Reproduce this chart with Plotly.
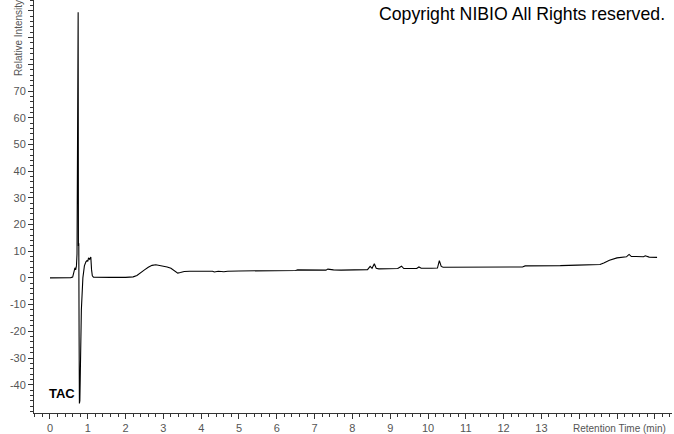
import plotly.graph_objects as go

# Retention time (min) and relative intensity
time_min = [
    0.00, 0.30, 0.55, 0.60, 0.63, 0.66, 0.68, 0.70, 0.715, 0.725, 0.745, 0.752, 0.762,
    0.770, 0.778, 0.790, 0.800, 0.810, 0.83, 0.87, 0.91, 0.95, 0.98, 1.00, 1.02,
    1.05, 1.08, 1.10, 1.12, 1.15, 1.30, 1.60, 2.00, 2.20, 2.30, 2.40, 2.50, 2.60,
    2.70, 2.80, 2.90, 3.00, 3.10, 3.20, 3.30, 3.38, 3.45, 3.55, 3.70, 4.00, 4.30,
    4.35, 4.45, 4.60, 4.70, 5.00, 5.50, 6.00, 6.10, 6.15, 6.50, 6.55, 7.00, 7.30,
    7.35, 7.50, 7.70, 8.00, 8.20, 8.40, 8.47, 8.52, 8.58, 8.63, 8.70, 8.90, 9.20,
    9.30, 9.36, 9.50, 9.70, 9.76, 9.82, 10.10, 10.25, 10.30, 10.35, 10.40, 10.60,
    11.00, 11.50, 12.00, 12.50, 12.57, 13.00, 13.50, 13.95, 14.30, 14.55, 14.65,
    14.80, 15.00, 15.10, 15.25, 15.32, 15.38, 15.50, 15.70, 15.75, 15.85, 16.06,
]
intensity = [
    0.0, 0.0, 0.1, 0.3, 1.8, 3.8, 3.0, 4.5, 9.0, 99.5, 99.5, 12.0, 13.0,
    -22.0, -47.0, -46.0, -38.0, -28.0, -12.0, 0.0, 4.5, 6.0, 6.5, 6.2, 7.5,
    7.0, 7.8, 3.0, 0.8, 0.3, 0.2, 0.2, 0.2, 0.4, 0.9, 1.8, 3.0, 4.0,
    4.7, 4.9, 4.7, 4.4, 4.1, 3.6, 2.6, 1.8, 2.0, 2.4, 2.5, 2.5, 2.5,
    2.2, 2.5, 2.3, 2.5, 2.6, 2.6, 2.6, 2.8, 2.8, 2.8, 3.0, 2.9, 2.9,
    3.3, 3.0, 2.9, 3.1, 3.0, 3.1, 4.3, 3.6, 5.3, 3.6, 3.4, 3.4, 3.5,
    4.4, 3.5, 3.5, 3.5, 4.1, 3.6, 3.6, 3.7, 6.5, 4.3, 4.0, 4.0,
    4.0, 4.0, 4.1, 4.1, 4.5, 4.5, 4.6, 4.8, 4.9, 5.0, 5.6,
    6.6, 7.5, 7.7, 7.9, 8.8, 8.0, 8.0, 7.9, 8.3, 7.8, 7.7,
]

x_tick_vals = list(range(0, 17))
x_tick_text = [str(v) if v <= 13 else "" for v in x_tick_vals]
y_tick_vals = list(range(-40, 101, 10))
y_tick_text = [str(v) if v <= 70 else "" for v in y_tick_vals]

font_family = "Liberation Sans, Arial, sans-serif"
gray = "#555555"

fig = go.Figure()
fig.add_trace(go.Scatter(
    x=time_min, y=intensity, mode="lines",
    line=dict(color="black", width=1.1), showlegend=False, hoverinfo="skip",
))

fig.update_layout(
    width=674, height=434,
    margin=dict(l=34, r=2, t=0, b=21),
    paper_bgcolor="white", plot_bgcolor="white",
    font=dict(family=font_family, size=11, color=gray),
    xaxis=dict(
        range=[-0.423, 16.455], showgrid=False, zeroline=False,
        showline=True, linecolor="#333333", linewidth=1,
        tickmode="array", tickvals=x_tick_vals, ticktext=x_tick_text,
        ticks="outside", ticklen=5, tickcolor="#333333", tickwidth=1,
        minor=dict(dtick=0.2, tick0=0, ticks="outside", ticklen=3, tickcolor="#333333", tickwidth=1),
        tickfont=dict(size=11, color=gray, family=font_family),
    ),
    yaxis=dict(
        range=[-50.6, 104.1], showgrid=False, zeroline=False,
        showline=True, linecolor="#333333", linewidth=1,
        tickmode="array", tickvals=y_tick_vals, ticktext=y_tick_text,
        ticks="outside", ticklen=5, tickcolor="#333333", tickwidth=1,
        minor=dict(dtick=2, tick0=0, ticks="outside", ticklen=3, tickcolor="#333333", tickwidth=1),
        tickfont=dict(size=11, color=gray, family=font_family),
    ),
    annotations=[
        dict(text="Relative Intensity", textangle=-90, xref="paper", yref="paper",
             x=-0.025, y=0.811, xanchor="center", yanchor="bottom", showarrow=False,
             font=dict(size=10, color=gray, family=font_family)),
        dict(text="Retention Time (min)", xref="paper", yref="paper",
             x=0.9937, y=-0.0387, xanchor="right", yanchor="middle", showarrow=False,
             font=dict(size=10, color=gray, family=font_family)),
        dict(text="Copyright NIBIO All Rights reserved.", xref="paper", yref="paper",
             x=0.992, y=0.995, xanchor="right", yanchor="top", showarrow=False,
             font=dict(size=17.7, color="black", family=font_family)),
        dict(text="<b>TAC</b>", xref="paper", yref="paper",
             x=0.0204, y=0.0484, xanchor="left", yanchor="middle", showarrow=False,
             font=dict(size=13, color="black", family=font_family)),
    ],
)

fig.write_html(
    "out.html",
    config={"displayModeBar": False},
    post_script="document.body.style.margin='0';document.body.style.padding='0';",
)
